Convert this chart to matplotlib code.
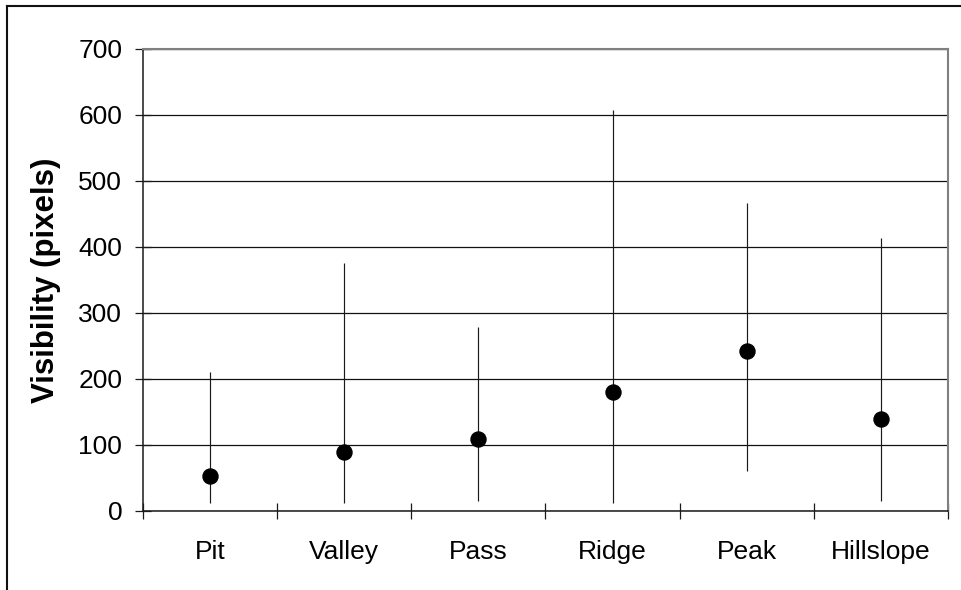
import matplotlib
matplotlib.use("Agg")
import matplotlib.pyplot as plt
from matplotlib.lines import Line2D
import numpy as np

plt.rcParams['font.family'] = ['Liberation Sans', 'DejaVu Sans']

# Landform classes and visibility statistics (pixels)
categories = ["Pit", "Valley", "Pass", "Ridge", "Peak", "Hillslope"]
mean_vis = [53, 89, 109, 180, 242, 139]
min_vis = [12, 12, 15, 12, 60, 15]
max_vis = [210, 376, 279, 608, 467, 413]
y_ticks = [0, 100, 200, 300, 400, 500, 600, 700]

fig = plt.figure(figsize=(9.62, 5.90), dpi=100)
ax = fig.add_axes([143 / 962, 79 / 590, 805 / 962, 462 / 590])

x = np.arange(len(categories)) + 0.5

# range whiskers
ax.vlines(x, min_vis, max_vis, colors="#1a1a1a", linewidth=0.85, zorder=3)
# mean markers
ax.plot(x, mean_vis, "o", color="black", markersize=10.8, linestyle="none", zorder=4)

ax.set_xlim(0, len(categories))
ax.set_ylim(0, 700)
ax.set_yticks(y_ticks)
ax.set_yticklabels([str(v) for v in y_ticks])

# category boundaries carry the ticks, labels sit at the centres
ax.set_xticks(np.arange(len(categories) + 1))
ax.set_xticklabels([])
ax.set_xticks(x, minor=True)
ax.set_xticklabels(categories, minor=True)

ax.tick_params(axis="both", which="major", direction="inout", length=11,
               width=0.9, color="#1a1a1a", labelsize=19)
ax.tick_params(axis="y", which="major", pad=9.5)
ax.tick_params(axis="x", which="minor", length=0, labelsize=19, pad=21)

ax.yaxis.grid(True, color="#111111", linewidth=0.9)
ax.set_axisbelow(True)

for side in ("left", "bottom"):
    ax.spines[side].set_color("#1a1a1a")
    ax.spines[side].set_linewidth(1.1)
for side in ("top", "right"):
    ax.spines[side].set_color("#808080")
    ax.spines[side].set_linewidth(1.5)

ax.set_ylabel("Visibility (pixels)", fontsize=22.5, fontweight="bold", labelpad=12)

# outer chart frame (top and left edges)
fig.add_artist(Line2D([7 / 962, 1.0], [1 - 6 / 590, 1 - 6 / 590],
                      transform=fig.transFigure, color="#111111", linewidth=1.5))
fig.add_artist(Line2D([7 / 962, 7 / 962], [0.0, 1 - 6 / 590],
                      transform=fig.transFigure, color="#111111", linewidth=1.5))

fig.savefig("out.png", dpi=100, facecolor="white")
